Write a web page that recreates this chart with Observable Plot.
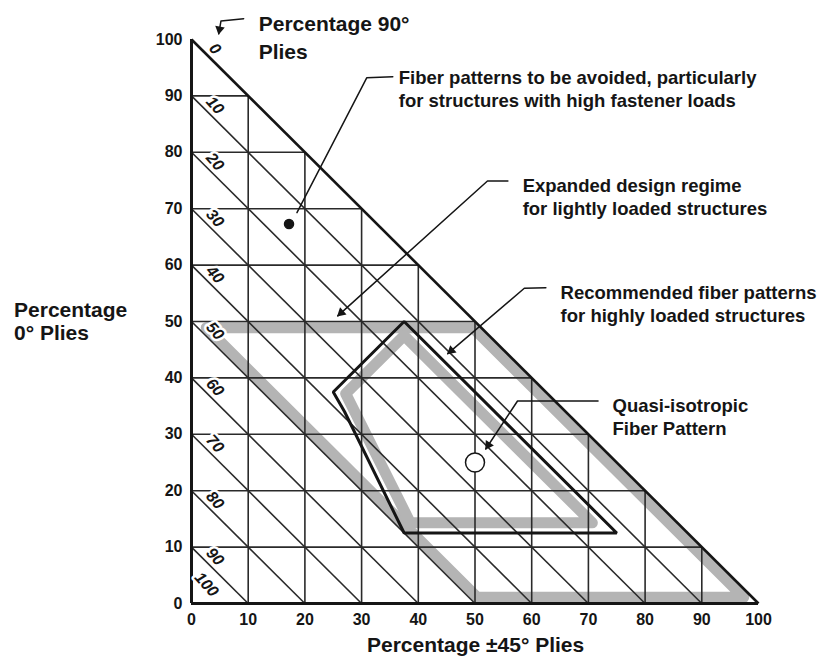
<!DOCTYPE html>
<html><head><meta charset="utf-8">
<script src="https://cdn.jsdelivr.net/npm/d3@7"></script>
<script src="https://cdn.jsdelivr.net/npm/@observablehq/plot@0.6"></script>
<style>body{margin:0;background:#fff}</style>
</head><body><div id="chart"></div>
<script>
// ---- data ----
const xTicks = [0, 10, 20, 30, 40, 50, 60, 70, 80, 90, 100];
const yTicks = [0, 10, 20, 30, 40, 50, 60, 70, 80, 90, 100];
const gridLevels = [10, 20, 30, 40, 50, 60, 70, 80, 90];
const ply90Levels = [100, 90, 80, 70, 60, 50, 40, 30, 20, 10, 0];
const ply90Labels = ["0", "10", "20", "30", "40", "50", "60", "70", "80", "90", "100"];
// expanded design regime (gray band)
const expandedBand = [[2.6, 48.9], [49.6, 48.9], [97.4, 1.1], [50.4, 1.1]];
// inner shading of recommended region
const recommendedBand = [[37.5, 47.5], [70.7, 14.3], [38.6, 14.3], [27.2, 37.2]];
// recommended fiber patterns outline
const recommended = [[37.5, 50], [75, 12.5], [37.5, 12.5], [27, 34], [25, 37.5]];
const avoidPoint = [[17.2, 67.3]];
const quasiPoint = [[50, 25]];
// annotations
const noteTexts = [
  "Fiber patterns to be avoided, particularly\nfor structures with high fastener loads",
  "Expanded design regime\nfor lightly loaded structures",
  "Recommended fiber patterns\nfor highly loaded structures",
  "Quasi-isotropic\nFiber Pattern"
];
const noteX = [36.55, 58.4, 65.1, 74.25];
const noteY = [95.0, 75.8, 56.9, 36.8];
const leader90 = [[9.2, 103.7], [5.2, 103.3], [4.8, 101.0]];
const leaderAvoid = [[35.5, 93.4], [30.9, 93.2], [18.6, 69.3]];
const leaderExpanded = [[55.8, 74.9], [52.2, 74.9], [25.8, 51.0]];
const leaderRecommended = [[62.5, 56.0], [58.7, 55.9], [45.2, 44.3]];
const leaderQuasi = [[71.7, 35.9], [57.5, 35.9], [51.9, 27.4]];
const title90 = "Percentage 90°\nPlies";
const titleX = "Percentage ±45° Plies";
const titleY = "Percentage\n0° Plies";

// ---- build ----
const W = 822, H = 657, ML = 191, MR = 64, MT = 39, MB = 54;
const kx = (W - ML - MR) / 100, ky = (H - MT - MB) / 100; // px per unit (for arrowhead orientation)
const font = "'Liberation Sans', Arial, Helvetica, sans-serif";
const ink = "#151515";
const leaders = [leader90, leaderAvoid, leaderExpanded, leaderRecommended, leaderQuasi];
const leaderRows = leaders.flatMap((pts, i) => pts.map(p => ({id: i, x: p[0], y: p[1]})));
const heads = [leader90, leaderExpanded, leaderRecommended, leaderQuasi].map(pts => {
  const a = pts[pts.length - 2], b = pts[pts.length - 1];
  const dxp = (b[0] - a[0]) * kx, dyp = -(b[1] - a[1]) * ky;
  const len = Math.hypot(dxp, dyp), ux = dxp / len, uy = dyp / len;
  const back = 4.6;
  return {x: b[0] - ux * back / kx, y: b[1] + uy * back / ky, angle: Math.atan2(dxp, -dyp) * 180 / Math.PI};
});
const labelRows = ply90Levels.map((y, i) => ({y, label: ply90Labels[i]}));
const notes = noteTexts.map((t, i) => ({t, x: noteX[i], y: noteY[i]}));
const px = d => d[0], py = d => d[1];

const chart = Plot.plot({
  width: W, height: H,
  marginLeft: ML, marginRight: MR, marginTop: MT, marginBottom: MB,
  x: {domain: [0, 100], ticks: xTicks, tickSize: 0, tickPadding: 10, label: null},
  y: {domain: [0, 100], ticks: yTicks, tickSize: 0, tickPadding: 9, label: null},
  style: {fontFamily: font, fontSize: "16px", fontWeight: "bold", color: ink, background: "#fff"},
  marks: [
    Plot.line(expandedBand, {x: px, y: py, curve: "linear-closed", stroke: "#b4b4b4", strokeWidth: 11, strokeLinejoin: "round"}),
    Plot.line(recommendedBand, {x: px, y: py, curve: "linear-closed", stroke: "#b4b4b4", strokeWidth: 11, strokeLinejoin: "round"}),
    // grid: horizontals, verticals, diagonals
    Plot.link(gridLevels, {x1: () => 0, y1: d => d, x2: d => 100 - d, y2: d => d, stroke: "#2a2a2a", strokeWidth: 1.6}),
    Plot.link(gridLevels, {x1: d => d, y1: () => 0, x2: d => d, y2: d => 100 - d, stroke: "#2a2a2a", strokeWidth: 1.6}),
    Plot.link(gridLevels, {x1: () => 0, y1: d => d, x2: d => d, y2: () => 0, stroke: "#2a2a2a", strokeWidth: 1.6}),
    Plot.link([100], {x1: () => 0, y1: d => d, x2: d => d, y2: () => 0, stroke: ink, strokeWidth: 2.6}),
    Plot.ruleX([0], {y1: 0, y2: 100, stroke: ink, strokeWidth: 3}),
    Plot.ruleY([0], {x1: 0, x2: 100, stroke: ink, strokeWidth: 3}),
    Plot.line(recommended, {x: px, y: py, curve: "linear-closed", stroke: ink, strokeWidth: 3, strokeLinejoin: "miter"}),
    // 90° ply labels along the y axis
    Plot.text(labelRows.filter(d => d.y > 0), {x: () => 0, y: "y", text: "label", dx: 23.5, dy: 9.5, rotate: 48,
      fontSize: 16, fontStyle: "italic", fontWeight: "bold", fill: ink, stroke: "white", strokeWidth: 5}),
    Plot.text(labelRows.filter(d => d.y === 0), {x: () => 0, y: "y", text: "label", dx: 15, dy: -19, rotate: 48,
      fontSize: 16, fontStyle: "italic", fontWeight: "bold", fill: ink, stroke: "white", strokeWidth: 5}),
    // points
    Plot.dot(avoidPoint, {x: px, y: py, r: 4.5, fill: ink, stroke: ink}),
    Plot.dot(quasiPoint, {x: px, y: py, r: 9.5, fill: "white", stroke: ink, strokeWidth: 1.5}),
    // leaders with filled arrowheads
    Plot.line(leaderRows, {x: "x", y: "y", z: "id", stroke: ink, strokeWidth: 1.5, curve: "linear"}),
    Plot.dot(heads, {x: "x", y: "y", rotate: "angle", symbol: "triangle", r: 3.6, fill: ink, stroke: "none"}),
    // annotations
    Plot.text(notes, {x: "x", y: "y", text: "t", textAnchor: "start", lineAnchor: "top", lineHeight: 1.24,
      fontSize: 18.5, fontWeight: "bold", fill: ink}),
    Plot.text([title90], {x: () => 11.85, y: () => 104.9, text: d => d, textAnchor: "start", lineAnchor: "top", lineHeight: 1.3,
      fontSize: 21, fontWeight: "bold", fill: ink}),
    Plot.text([titleY], {x: () => -31.3, y: () => 53.7, text: d => d, textAnchor: "start", lineAnchor: "top", lineHeight: 1.1,
      fontSize: 21, fontWeight: "bold", fill: ink}),
    Plot.text([titleX], {x: () => 50.1, y: () => -5.9, text: d => d, textAnchor: "middle", lineAnchor: "top",
      fontSize: 21, fontWeight: "bold", fill: ink})
  ]
});
document.getElementById("chart").append(chart);
</script>
</body></html>
